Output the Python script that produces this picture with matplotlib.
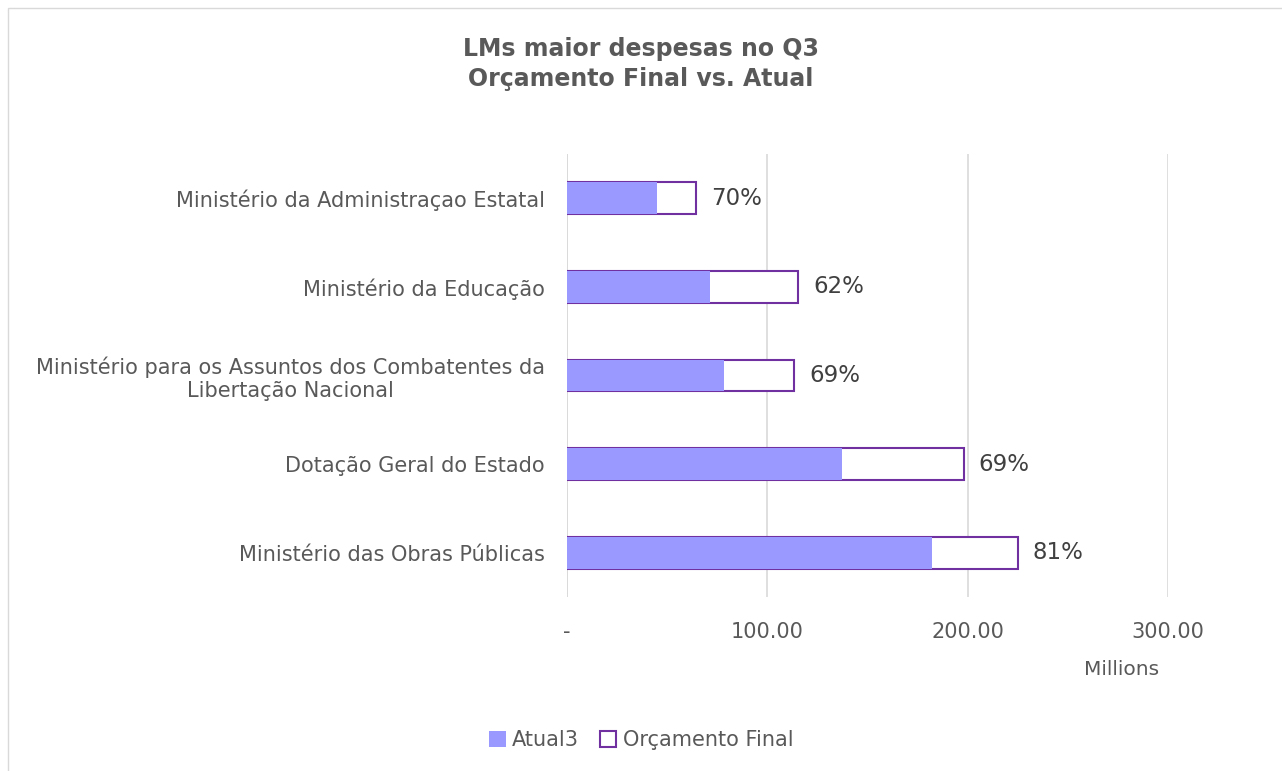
import matplotlib.pyplot as plt
from matplotlib.patches import Rectangle, Patch

# data (millions)
categories = ["Ministério da Administraçao Estatal",
              "Ministério da Educação",
              "Ministério para os Assuntos dos Combatentes da\nLibertação Nacional",
              "Dotação Geral do Estado",
              "Ministério das Obras Públicas"]
atual = [45.0, 71.5, 78.5, 137.0, 182.0]
orcamento = [64.5, 115.5, 113.5, 198.0, 225.0]
pct_labels = ["70%", "62%", "69%", "69%", "81%"]
ticks = [0, 100, 200, 300]
tick_labels = ["-", "100.00", "200.00", "300.00"]

txt = "#595959"
fill_c = "#9999FF"
edge_c = "#7030A0"

plt.rcParams['font.family'] = ['DejaVu Sans']

fig = plt.figure(figsize=(12.82, 7.71), dpi=100)
fig.patches.append(Rectangle((0.006, -0.01), 1.2, 1.0, transform=fig.transFigure,
                             fill=False, edgecolor="#d9d9d9", lw=1))
ax = fig.add_axes([0.4423, 0.2257, 0.4689, 0.5746])

y = list(range(len(categories)))[::-1]
ax.barh(y, orcamento, height=0.36, color="white", edgecolor=edge_c, lw=1.5, zorder=2)
ax.barh(y, atual, height=0.36, color=fill_c, edgecolor="none", zorder=3)
for yi, v, lab in zip(y, orcamento, pct_labels):
    ax.text(v + 7.5, yi, lab, va="center", ha="left", fontsize=16.5, color="#404040")

ax.set_xlim(0, 300)
ax.set_ylim(-0.5, len(categories) - 0.5)
ax.set_xticks(ticks)
ax.set_xticklabels(tick_labels, fontsize=15, color=txt)
ax.set_yticks(y)
ax.set_yticklabels(categories, fontsize=15, color=txt, multialignment="center")
ax.tick_params(length=0)
ax.tick_params(axis="y", pad=16)
ax.tick_params(axis="x", pad=18)
ax.grid(axis="x", color="#d9d9d9", lw=1.2, zorder=0)
ax.set_axisbelow(True)
for s in ax.spines.values():
    s.set_visible(False)
ax.axvline(0, color="#d9d9d9", lw=1.2, zorder=1)

fig.text(0.875, 0.125, "Millions", fontsize=14.5, color=txt, ha="center")
fig.text(0.5, 0.917, "LMs maior despesas no Q3\nOrçamento Final vs. Atual",
         ha="center", va="center", fontsize=17, fontweight="bold", color=txt,
         linespacing=1.3)

handles = [Patch(facecolor=fill_c, edgecolor="none", label="Atual3"),
           Patch(facecolor="white", edgecolor=edge_c, lw=1.5, label="Orçamento Final")]
fig.legend(handles=handles, loc="center", bbox_to_anchor=(0.5, 0.04), ncol=2,
           frameon=False, fontsize=15, labelcolor=txt, handlelength=0.8,
           handleheight=0.8, handletextpad=0.3, columnspacing=1.0)

fig.savefig("out.png", dpi=100)
